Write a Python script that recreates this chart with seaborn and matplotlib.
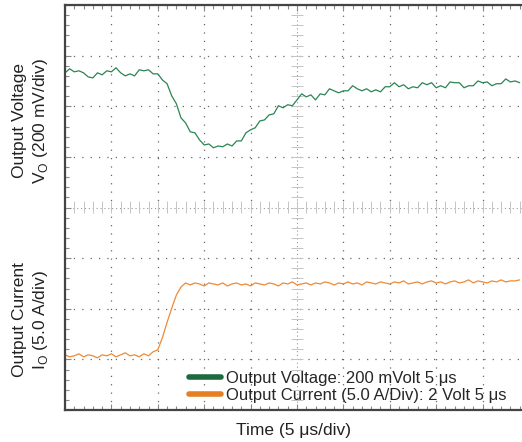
# Libraries
import numpy as np
import pandas as pd
import matplotlib
matplotlib.use('Agg')
import matplotlib.pyplot as plt
from matplotlib.ticker import MultipleLocator, NullFormatter
import seaborn as sns

# Data (0.5 us steps)
time_us = np.arange(0, 49.01, 0.5)

# output voltage deviation (mV), 200 mV/div
voltage_mv = [-4, 12, 0, 4, -4, -20, -24, -4, -12, 4,
              0, 16, -4, -16, -8, -16, 8, 4, 8, -8,
              -8, -32, -47, -95, -126, -182, -202, -237, -241, -269,
              -289, -285, -300, -293, -296, -285, -293, -273, -273, -241,
              -229, -221, -194, -190, -170, -166, -134, -142, -130, -134,
              -111, -87, -99, -91, -111, -87, -91, -67, -75, -83,
              -75, -75, -55, -67, -75, -67, -79, -71, -79, -59,
              -59, -43, -59, -51, -67, -59, -63, -43, -51, -43,
              -63, -55, -63, -40, -43, -43, -63, -55, -55, -36,
              -43, -40, -55, -47, -47, -28, -40, -36, -43]

# output current (A), 5.0 A/div
current_a = [0.1, -0.1, 0.0, 0.2, -0.1, 0.1, 0.0, -0.2, 0.1, 0.0,
             0.2, -0.1, 0.1, 0.3, 0.0, 0.1, -0.1, 0.2, 0.0, 0.4,
             0.6, 1.8, 3.3, 4.7, 6.0, 6.8, 7.2,
             7.0, 7.2, 7.1, 6.9, 7.2, 7.1, 7.0, 7.2, 6.9, 7.1, 7.2, 7.0, 7.1, 6.9,
             7.2, 7.1, 7.0, 7.2, 7.1, 6.9, 7.2, 7.1, 7.3, 7.0, 7.1, 7.2, 7.0, 7.2,
             7.1, 7.3, 7.2, 7.0, 7.2, 7.1, 7.3, 7.1, 7.2, 7.0, 7.3, 7.2, 7.1, 7.3,
             7.2, 7.1, 7.3, 7.2, 7.4, 7.1, 7.2, 7.3, 7.1, 7.3, 7.4, 7.2, 7.3, 7.1,
             7.3, 7.4, 7.2, 7.3, 7.5, 7.2, 7.4, 7.3, 7.2, 7.4, 7.3, 7.5, 7.3, 7.4,
             7.4, 7.5]

legend_labels = ['Output Voltage: 200 mVolt 5 \u03bcs',
                 'Output Current (5.0 A/Div): 2 Volt 5 \u03bcs']

# scope settings: offsets in divisions, scale per division
v_offset, v_scale = 6.68, 200.0
i_offset, i_scale = 1.07, 5.0

df = pd.DataFrame({
    't': time_us,
    'v': v_offset + np.array(voltage_mv) / v_scale,
    'i': i_offset + np.array(current_a) / i_scale,
})

sns.set_style('white')
plt.rcParams['font.family'] = ['Liberation Sans Narrow', 'Liberation Sans', 'DejaVu Sans']

fig = plt.figure(figsize=(5.22, 4.42), dpi=100)
ax = fig.add_axes([65 / 522, 32 / 442, 457 / 522, 405 / 442])

green = '#2a8552'
orange = '#ee8a35'
sns.lineplot(data=df, x='t', y='v', ax=ax, color=green, lw=0.9, label=legend_labels[0])
sns.lineplot(data=df, x='t', y='i', ax=ax, color=orange, lw=0.9, label=legend_labels[1])

ax.set_xlim(0, 49.25)
ax.set_ylim(0, 8)

# scope graticule
dot = (0, (1, 5.7))
for xv in np.arange(5, 50, 5):
    if xv != 25:
        ax.axvline(xv, color='#666666', lw=0.9, ls=dot, zorder=0)
for yv in range(1, 8):
    if yv != 4:
        ax.axhline(yv, color='#666666', lw=0.9, ls=dot, zorder=0)
ax.axvline(25, color='#999999', lw=0.8, ls=(0, (1, 2.5)), zorder=0)
ax.axhline(4, color='#999999', lw=0.8, ls=(0, (1, 2.5)), zorder=0)

ax.xaxis.set_major_locator(MultipleLocator(5))
ax.xaxis.set_minor_locator(MultipleLocator(1))
ax.yaxis.set_major_locator(MultipleLocator(1))
ax.yaxis.set_minor_locator(MultipleLocator(0.2))
ax.xaxis.set_major_formatter(NullFormatter())
ax.yaxis.set_major_formatter(NullFormatter())
ax.tick_params(which='both', direction='in', top=True, left=True, bottom=True,
               right=False, color='#888888', width=0.8)
ax.tick_params(which='major', length=4)
ax.tick_params(which='minor', length=3)

# centre crosshair ticks
cx = ax.secondary_xaxis(0.5)
cx.xaxis.set_major_locator(MultipleLocator(1))
cx.xaxis.set_major_formatter(NullFormatter())
cx.tick_params(direction='inout', length=9, color='#c4c4c4', width=0.7)
cy = ax.secondary_yaxis(25 / 49.25)
cy.yaxis.set_major_locator(MultipleLocator(0.2))
cy.yaxis.set_major_formatter(NullFormatter())
cy.tick_params(direction='inout', length=9, color='#c4c4c4', width=0.7)
for sec in (cx, cy):
    for sp in sec.spines.values():
        sp.set_visible(False)

for s in ['left', 'bottom', 'top']:
    ax.spines[s].set_color('#444444')
    ax.spines[s].set_linewidth(1.6)
ax.spines['right'].set_visible(False)

ax.set_xlabel('Time (5 \u03bcs/div)', fontsize=12.5, color='#222222', labelpad=6)
ax.set_ylabel('')

fig.text(31 / 522, 1 - 121 / 442, 'Output Voltage\nV$_\\mathregular{O}$ (200 mV/div)',
         rotation=90, ha='center', va='center', fontsize=12.5, color='#222222',
         linespacing=1.25)
fig.text(31 / 522, 1 - 320 / 442, 'Output Current\nI$_\\mathregular{O}$ (5.0 A/div)',
         rotation=90, ha='center', va='center', fontsize=12.5, color='#222222',
         linespacing=1.25)

leg = ax.legend(loc='lower left', bbox_to_anchor=(0.265, 0.01), frameon=False,
                fontsize=12, handlelength=1.9, handletextpad=0.3,
                labelspacing=0.1, borderaxespad=0, borderpad=0.2)
for h in leg.legend_handles:
    h.set_linewidth(4)
leg.legend_handles[0].set_color('#1d6a40')
leg.legend_handles[1].set_color('#e67e22')

fig.savefig('out.png', dpi=100)
